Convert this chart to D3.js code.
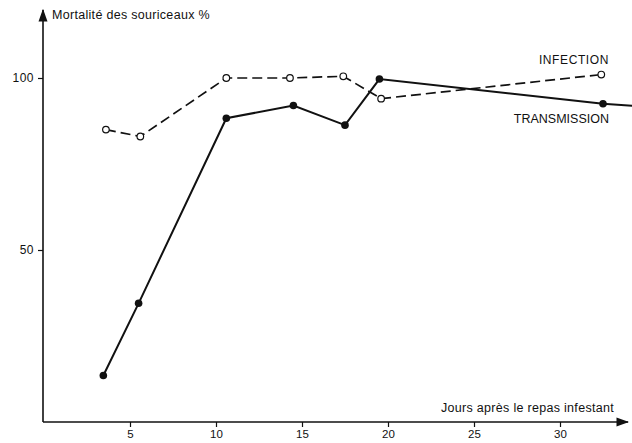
<!DOCTYPE html>
<html>
<head>
<meta charset="utf-8">
<script src="https://cdn.jsdelivr.net/npm/d3@7"></script>
<style>
  body { margin: 0; background: #fff; }
  text { font-family: "Liberation Sans", Arial, sans-serif; fill: #111; }
</style>
</head>
<body>
<div id="chart"></div>
<script>
// data
var infectionDays = [3.6, 5.6, 10.6, 14.3, 17.4, 19.6, 32.4];
var infectionMort = [85, 83, 100, 100, 100.5, 94, 101];
var transmissionDays = [3.45, 5.5, 10.6, 14.5, 17.5, 19.5, 32.5];
var transmissionMort = [13.5, 34.5, 88.3, 92, 86.3, 99.7, 92.5];
// solid line runs on past the last point to the edge
var transmissionTail = [[32.5, 92.5], [34.3, 91.9]];
var xTicks = [5, 10, 15, 20, 25, 30];
var yTicks = [50, 100];

var width = 632, height = 443;
var svg = d3.select("#chart").append("svg")
    .attr("width", width)
    .attr("height", height);

var x = d3.scaleLinear().domain([0, 30]).range([44, 560]);
var y = d3.scaleLinear().domain([0, 100]).range([422, 78]);

// arrow heads
var defs = svg.append("defs");
defs.append("marker")
    .attr("id", "arrow")
    .attr("viewBox", "0 0 10 10")
    .attr("refX", 9).attr("refY", 5)
    .attr("markerWidth", 8).attr("markerHeight", 8)
    .attr("orient", "auto")
  .append("path")
    .attr("d", "M0,1.5 L10,5 L0,8.5 Z")
    .attr("fill", "#111");

// axes
svg.append("line")
    .attr("x1", x(0) - 1).attr("y1", y(0))
    .attr("x2", 628).attr("y2", y(0))
    .attr("stroke", "#111").attr("stroke-width", 1.6)
    .attr("marker-end", "url(#arrow)");
svg.append("line")
    .attr("x1", x(0) - 1).attr("y1", y(0))
    .attr("x2", x(0) - 1).attr("y2", 10)
    .attr("stroke", "#111").attr("stroke-width", 1.6)
    .attr("marker-end", "url(#arrow)");

var xAxis = svg.append("g")
    .attr("transform", "translate(0," + y(0) + ")")
    .call(d3.axisBottom(x).tickValues(xTicks).tickSize(5).tickPadding(3));
xAxis.select(".domain").remove();
xAxis.selectAll("line").attr("stroke", "#111").attr("stroke-width", 1.2);
xAxis.selectAll("text").attr("font-size", 11.5).attr("font-family", "Liberation Sans, Arial, sans-serif");

var yAxis = svg.append("g")
    .attr("transform", "translate(" + (x(0) - 1) + ",0)")
    .call(d3.axisLeft(y).tickValues(yTicks).tickSize(5).tickPadding(4));
yAxis.select(".domain").remove();
yAxis.selectAll("line").attr("stroke", "#111").attr("stroke-width", 1.2);
yAxis.selectAll("text").attr("font-size", 12).attr("letter-spacing", 0.5)
    .attr("font-family", "Liberation Sans, Arial, sans-serif");

// series
var infection = infectionDays.map(function(d, i) { return [d, infectionMort[i]]; });
var transmission = transmissionDays.map(function(d, i) { return [d, transmissionMort[i]]; });

var line = d3.line()
    .x(function(d) { return x(d[0]); })
    .y(function(d) { return y(d[1]); });

svg.append("path")
    .datum(infection)
    .attr("d", line)
    .attr("fill", "none")
    .attr("stroke", "#111")
    .attr("stroke-width", 1.7)
    .attr("stroke-dasharray", "10,5");

svg.append("path")
    .datum(transmission)
    .attr("d", line)
    .attr("fill", "none")
    .attr("stroke", "#111")
    .attr("stroke-width", 2);

svg.append("path")
    .datum(transmissionTail)
    .attr("d", line)
    .attr("fill", "none")
    .attr("stroke", "#111")
    .attr("stroke-width", 2);

svg.selectAll(".inf")
    .data(infection)
    .enter()
    .append("circle")
    .attr("cx", function(d) { return x(d[0]); })
    .attr("cy", function(d) { return y(d[1]); })
    .attr("r", 3.3)
    .attr("fill", "#fff")
    .attr("stroke", "#111")
    .attr("stroke-width", 1.2);

svg.selectAll(".tr")
    .data(transmission)
    .enter()
    .append("circle")
    .attr("cx", function(d) { return x(d[0]); })
    .attr("cy", function(d) { return y(d[1]); })
    .attr("r", 3.8)
    .attr("fill", "#111");

// labels
svg.append("text")
    .attr("x", 52).attr("y", 19)
    .attr("font-size", 12.5)
    .attr("letter-spacing", 0.3)
    .text("Mortalité des souriceaux %");

svg.append("text")
    .attr("x", 609).attr("y", 64)
    .attr("text-anchor", "end")
    .attr("font-size", 12)
    .attr("letter-spacing", 0.6)
    .text("INFECTION");

svg.append("text")
    .attr("x", 609).attr("y", 123)
    .attr("text-anchor", "end")
    .attr("font-size", 12.5)
    .text("TRANSMISSION");

svg.append("text")
    .attr("x", 614).attr("y", 412)
    .attr("text-anchor", "end")
    .attr("font-size", 12.5)
    .attr("letter-spacing", 0.3)
    .text("Jours après le repas infestant");
</script>
</body>
</html>
